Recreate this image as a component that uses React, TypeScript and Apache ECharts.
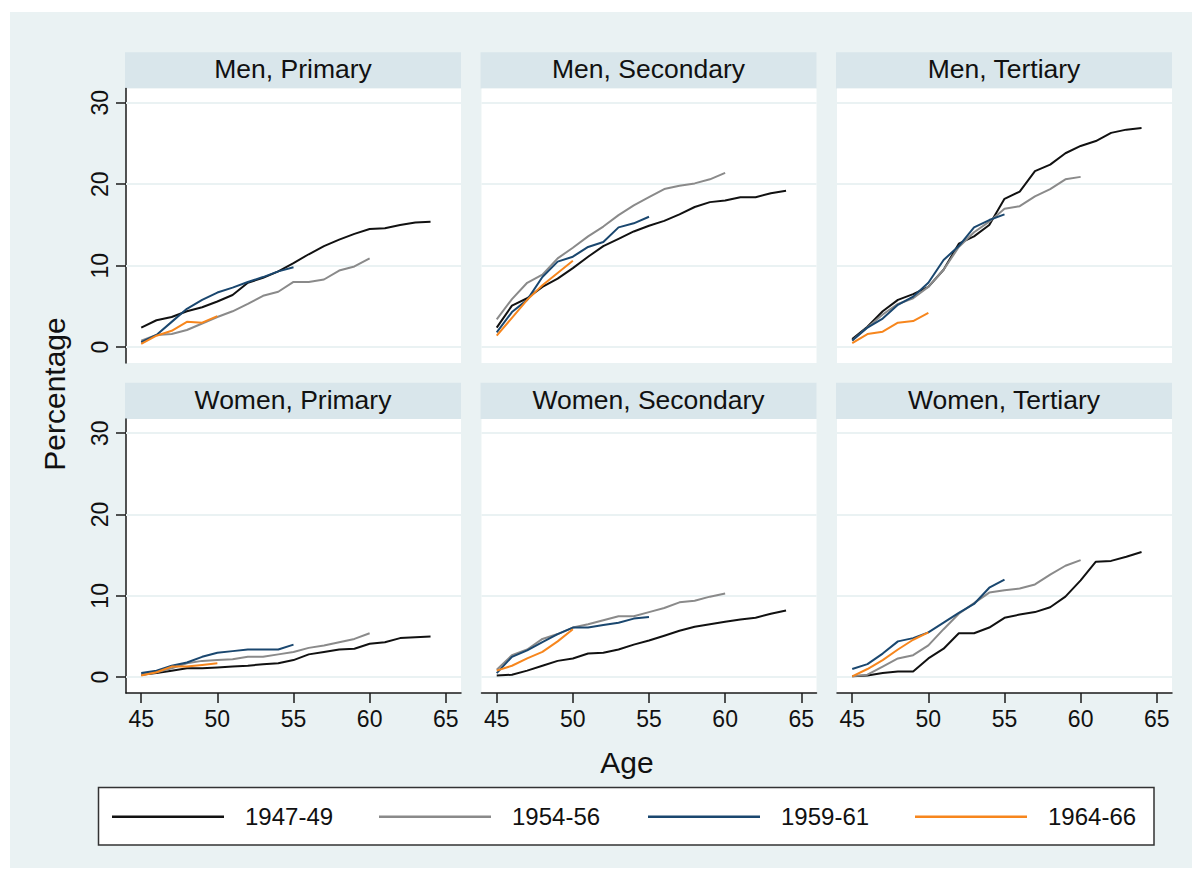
import React, { useEffect, useRef } from "react";
import * as echarts from "echarts";

// ---------- data ----------
const ages = [45, 46, 47, 48, 49, 50, 51, 52, 53, 54, 55, 56, 57, 58, 59, 60, 61, 62, 63, 64];
const cohorts = ["1947-49", "1954-56", "1959-61", "1964-66"];
const panelTitles = [
  "Men, Primary",
  "Men, Secondary",
  "Men, Tertiary",
  "Women, Primary",
  "Women, Secondary",
  "Women, Tertiary",
];
const xTicks = [45, 50, 55, 60, 65];
const yTicks = [0, 10, 20, 30];

// Men, Primary
const menPrimary4749 = [2.4, 3.3, 3.7, 4.4, 4.9, 5.6, 6.4, 7.9, 8.5, 9.3, 10.3, 11.4, 12.4, 13.2, 13.9, 14.5, 14.6, 15.0, 15.3, 15.4];
const menPrimary5456 = [0.8, 1.5, 1.6, 2.1, 2.9, 3.7, 4.4, 5.3, 6.3, 6.8, 8.0, 8.0, 8.3, 9.4, 9.9, 10.9];
const menPrimary5961 = [0.6, 1.5, 3.1, 4.7, 5.8, 6.7, 7.3, 8.0, 8.6, 9.3, 9.8];
const menPrimary6466 = [0.4, 1.4, 2.0, 3.1, 3.0, 3.8];

// Men, Secondary
const menSecondary4749 = [2.4, 5.1, 6.0, 7.4, 8.4, 9.7, 11.1, 12.4, 13.3, 14.2, 14.9, 15.5, 16.3, 17.2, 17.8, 18.0, 18.4, 18.4, 18.9, 19.2];
const menSecondary5456 = [3.4, 5.9, 7.9, 8.9, 10.9, 12.2, 13.6, 14.8, 16.2, 17.4, 18.4, 19.4, 19.8, 20.1, 20.6, 21.4];
const menSecondary5961 = [1.8, 4.3, 5.8, 8.6, 10.5, 11.1, 12.3, 12.9, 14.7, 15.2, 16.0];
const menSecondary6466 = [1.4, 3.6, 5.8, 7.6, 9.1, 10.6];

// Men, Tertiary
const menTertiary4749 = [1.0, 2.5, 4.4, 5.8, 6.5, 7.4, 9.5, 12.7, 13.6, 15.0, 18.2, 19.1, 21.6, 22.4, 23.8, 24.7, 25.3, 26.3, 26.7, 26.9];
const menTertiary5456 = [0.8, 2.4, 4.0, 5.3, 6.0, 7.4, 9.5, 12.3, 14.1, 15.4, 17.0, 17.3, 18.5, 19.4, 20.6, 20.9];
const menTertiary5961 = [0.8, 2.4, 3.5, 5.2, 6.2, 7.9, 10.7, 12.4, 14.7, 15.6, 16.3];
const menTertiary6466 = [0.5, 1.6, 1.9, 3.0, 3.2, 4.2];

// Women, Primary
const womenPrimary4749 = [0.3, 0.5, 0.8, 1.1, 1.1, 1.2, 1.3, 1.4, 1.6, 1.7, 2.1, 2.8, 3.1, 3.4, 3.5, 4.1, 4.3, 4.8, 4.9, 5.0];
const womenPrimary5456 = [0.3, 0.6, 1.1, 1.7, 2.0, 2.1, 2.2, 2.5, 2.5, 2.8, 3.1, 3.6, 3.9, 4.3, 4.7, 5.4];
const womenPrimary5961 = [0.5, 0.8, 1.4, 1.8, 2.5, 3.0, 3.2, 3.4, 3.4, 3.4, 4.0];
const womenPrimary6466 = [0.2, 0.6, 1.3, 1.3, 1.5, 1.7];

// Women, Secondary
const womenSecondary4749 = [0.2, 0.3, 0.8, 1.4, 2.0, 2.3, 2.9, 3.0, 3.4, 4.0, 4.5, 5.1, 5.7, 6.2, 6.5, 6.8, 7.1, 7.3, 7.8, 8.2];
const womenSecondary5456 = [0.9, 2.7, 3.4, 4.7, 5.3, 6.1, 6.5, 7.0, 7.5, 7.5, 8.0, 8.5, 9.2, 9.4, 9.9, 10.3];
const womenSecondary5961 = [0.5, 2.5, 3.3, 4.3, 5.3, 6.1, 6.1, 6.4, 6.7, 7.2, 7.4];
const womenSecondary6466 = [0.8, 1.4, 2.3, 3.1, 4.4, 5.9];

// Women, Tertiary
const womenTertiary4749 = [0.1, 0.2, 0.5, 0.7, 0.7, 2.3, 3.5, 5.4, 5.4, 6.1, 7.3, 7.7, 8.0, 8.6, 9.9, 11.9, 14.2, 14.3, 14.8, 15.4];
const womenTertiary5456 = [0.1, 0.3, 1.3, 2.3, 2.7, 3.9, 5.9, 7.8, 9.1, 10.4, 10.7, 10.9, 11.4, 12.6, 13.7, 14.4];
const womenTertiary5961 = [1.0, 1.6, 2.9, 4.4, 4.8, 5.5, 6.7, 7.9, 9.0, 11.0, 12.0];
const womenTertiary6466 = [0.1, 1.0, 2.1, 3.4, 4.6, 5.5];

const panelData = [
  [menPrimary4749, menPrimary5456, menPrimary5961, menPrimary6466],
  [menSecondary4749, menSecondary5456, menSecondary5961, menSecondary6466],
  [menTertiary4749, menTertiary5456, menTertiary5961, menTertiary6466],
  [womenPrimary4749, womenPrimary5456, womenPrimary5961, womenPrimary6466],
  [womenSecondary4749, womenSecondary5456, womenSecondary5961, womenSecondary6466],
  [womenTertiary4749, womenTertiary5456, womenTertiary5961, womenTertiary6466],
];

// ---------- styles / layout ----------
const cohortColors = ["#111111", "#8a8a8a", "#1a476f", "#f7861d"];
const FONT = "'Liberation Sans', Arial, Helvetica, sans-serif";
const OUTER_BG = "#eaf2f3";
const STRIP_BG = "#d9e6eb";
const colLeft = [126, 481.5, 837];
const colWidth = 335;
const rowTop = [88.5, 419];
const rowHeight = [274.5, 274];
const stripTop = [52.3, 382.7];
const stripHeight = 36.2;
const legendLeft = [112, 379, 648, 915];

function buildOption() {
  const grids: any[] = [];
  const xAxes: any[] = [];
  const yAxes: any[] = [];
  const series: any[] = [];
  const graphics: any[] = [];

  graphics.push({
    type: "rect",
    z: -10,
    shape: { x: 10, y: 12, width: 1182, height: 856 },
    style: { fill: OUTER_BG },
    silent: true,
  });

  for (let p = 0; p < 6; p++) {
    const row = Math.floor(p / 3);
    const col = p % 3;
    grids.push({
      left: colLeft[col],
      top: rowTop[row],
      width: colWidth,
      height: rowHeight[row],
      show: true,
      backgroundColor: "#ffffff",
      borderWidth: 0,
      containLabel: false,
    });
    const bottomRow = row === 1;
    const leftCol = col === 0;
    xAxes.push({
      type: "value",
      gridIndex: p,
      min: 44,
      max: 66,
      splitLine: { show: false },
      axisLine: { show: bottomRow, onZero: false, lineStyle: { color: "#1a1a1a", width: 1.5 } },
      axisTick: {
        show: bottomRow,
        length: 10,
        customValues: xTicks,
        lineStyle: { color: "#1a1a1a", width: 1.5 },
      },
      axisLabel: {
        show: bottomRow,
        customValues: xTicks,
        margin: 14,
        fontSize: 23,
        color: "#111",
        fontFamily: FONT,
      },
    });
    yAxes.push({
      type: "value",
      gridIndex: p,
      min: -1.95,
      max: 31.75,
      splitLine: { show: false },
      axisLine: { show: leftCol, onZero: false, lineStyle: { color: "#1a1a1a", width: 1.5 } },
      axisTick: {
        show: leftCol,
        length: 10,
        customValues: yTicks,
        lineStyle: { color: "#1a1a1a", width: 1.5 },
      },
      axisLabel: {
        show: leftCol,
        customValues: yTicks,
        rotate: 90,
        margin: 15,
        fontSize: 23,
        color: "#111",
        fontFamily: FONT,
      },
    });

    // gridlines
    series.push({
      type: "line",
      xAxisIndex: p,
      yAxisIndex: p,
      data: [],
      z: 1,
      silent: true,
      markLine: {
        z: 1,
        silent: true,
        symbol: ["none", "none"],
        label: { show: false },
        emphasis: { disabled: true },
        lineStyle: { color: OUTER_BG, width: 2, type: "solid" },
        data: yTicks.map((v) => ({ yAxis: v })),
      },
    });

    panelData[p].forEach((vals, c) => {
      series.push({
        name: cohorts[c],
        type: "line",
        xAxisIndex: p,
        yAxisIndex: p,
        z: 3,
        symbol: "none",
        showSymbol: false,
        silent: true,
        lineStyle: { color: cohortColors[c], width: 2 },
        itemStyle: { color: cohortColors[c] },
        data: vals.map((v, i) => [ages[i], v]),
      });
    });

    // strip title
    graphics.push({
      type: "rect",
      z: -5,
      shape: { x: colLeft[col] - 1, y: stripTop[row], width: colWidth + 1, height: stripHeight },
      style: { fill: STRIP_BG },
      silent: true,
    });
    graphics.push({
      type: "text",
      z: 5,
      x: colLeft[col] + colWidth / 2 - 0.5,
      y: stripTop[row] + stripHeight / 2 - 1,
      style: {
        text: panelTitles[p],
        fontSize: 26.5,
        fontFamily: FONT,
        fill: "#111",
        align: "center",
        verticalAlign: "middle",
      },
      silent: true,
    });
  }

  // axis titles
  graphics.push({
    type: "text",
    x: 54,
    y: 394,
    rotation: Math.PI / 2,
    style: {
      text: "Percentage",
      fontSize: 30,
      fontFamily: FONT,
      fill: "#111",
      align: "center",
      verticalAlign: "middle",
    },
    silent: true,
  });
  graphics.push({
    type: "text",
    x: 627,
    y: 762,
    style: {
      text: "Age",
      fontSize: 30,
      fontFamily: FONT,
      fill: "#111",
      align: "center",
      verticalAlign: "middle",
    },
    silent: true,
  });

  // legend box
  graphics.push({
    type: "rect",
    z: -4,
    shape: { x: 98.5, y: 787.5, width: 1055.5, height: 57.5 },
    style: { fill: "#ffffff", stroke: "#333333", lineWidth: 1.5 },
    silent: true,
  });

  const legends = cohorts.map((name, i) => ({
    data: [{ name, icon: "rect", itemStyle: { color: cohortColors[i] } }],
    left: legendLeft[i],
    top: 801.7,
    padding: 0,
    itemWidth: 112,
    itemHeight: 2.5,
    selectedMode: false,
    textStyle: {
      fontSize: 24,
      lineHeight: 30,
      color: "#111",
      fontFamily: FONT,
      padding: [0, 0, 0, 16],
    },
  }));

  return {
    animation: false,
    backgroundColor: "#ffffff",
    textStyle: { fontFamily: FONT },
    grid: grids,
    xAxis: xAxes,
    yAxis: yAxes,
    series,
    legend: legends,
    graphic: graphics,
  };
}

export default function App() {
  const ref = useRef<HTMLDivElement>(null);
  useEffect(() => {
    if (!ref.current) return;
    const chart = echarts.init(ref.current, undefined, { renderer: "svg" });
    chart.setOption(buildOption() as any);
    return () => {
      chart.dispose();
    };
  }, []);
  return (
    <div
      ref={ref}
      style={{ position: "absolute", left: 0, top: 0, width: 1202, height: 880 }}
    />
  );
}
